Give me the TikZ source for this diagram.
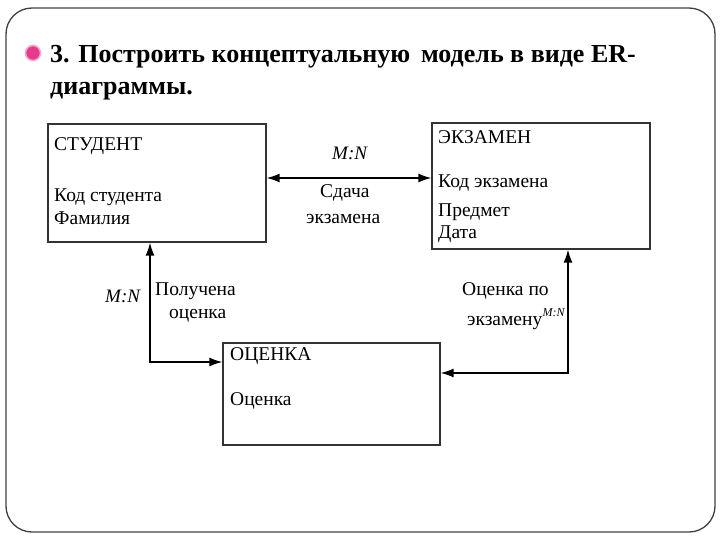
\documentclass[tikz,border=0pt]{standalone}
\usepackage{fontspec}
\setmainfont{Liberation Serif}
\usetikzlibrary{arrows.meta,calc}

\tikzset{
  entity/.style={rectangle,draw=black!80,line width=1.3pt,minimum width=218pt,inner sep=0pt},
  attr/.style={anchor=base west,inner sep=0pt,font=\fontsize{19.5}{23}\selectfont},
  rel/.style={line width=1.4pt,>={Latex[length=13pt,width=9pt]}},
  card/.style={anchor=base west,inner sep=0pt,font=\fontsize{19}{22}\selectfont\itshape}
}

\begin{document}
\begin{tikzpicture}[x=1pt,y=-1pt]
		\useasboundingbox (0,0) rectangle (720,540);
		\draw[black!75,line width=1.3pt,rounded corners=26pt] (6,8) rectangle (715,532);
		% title
		\node[circle,fill={rgb,255:red,232;green,58;blue,140},draw={rgb,255:red,245;green,170;blue,200},line width=1.5pt,minimum size=15pt,inner sep=0pt] (bullet) at (33,53) {};
		\node[anchor=base west,inner sep=0pt,font=\fontsize{26}{30}\selectfont\bfseries] (title1) at (50,63) {3. Построить концептуальную\, модель в виде ER-};
		\node[anchor=base west,inner sep=0pt,font=\fontsize{26}{30}\selectfont\bfseries] (title2) at (50,95) {диаграммы.};

		% entities
		\node[entity,minimum height=118pt] (stud) at (157,183) {};
		\node[entity,minimum height=126pt] (exam) at (541,186) {};
		\node[entity,minimum height=102pt,minimum width=217pt] (ocen) at (331.5,394) {};

		\node[attr] (studname) at (54,151) {СТУДЕНТ};
		\node[attr] (studkod) at (54,202) {Код студента};
		\node[attr] (studfam) at (54,225) {Фамилия};

		\node[attr] (examname) at (438,144) {ЭКЗАМЕН};
		\node[attr] (examkod) at (438,188) {Код экзамена};
		\node[attr] (exampred) at (438,217) {Предмет};
		\node[attr] (examdata) at (438,238) {Дата};

		\node[attr] (ocenname) at (230,360) {ОЦЕНКА};
		\node[attr] (ocenval) at (230,405) {Оценка};

		% relationships
		\coordinate (sc) at ([yshift=5pt]stud.east);
		\draw[rel,<->] (sc) -- (sc -| exam.west);
		\node[card] (mn1) at (332,160) {M:N};
		\node[attr] (sd1) at (320,198) {Сдача};
		\node[attr] (sd2) at (306,223) {экзамена};

		\coordinate (lc) at (150,362);
		\draw[rel,<->] (lc |- stud.south) -- (lc) -- (lc -| ocen.west);
		\node[card] (mn2) at (105,302) {M:N};
		\node[attr] (po1) at (155,295) {Получена};
		\node[attr] (po2) at (169,318) {оценка};

		\coordinate (rc) at (568,373);
		\draw[rel,<->] (rc |- exam.south) -- (rc) -- (rc -| ocen.east);
		\node[attr] (oe1) at (462,295) {Оценка по};
		\node[attr] (oe2) at (467,325) {экзамену};
		\node[card,font=\fontsize{12}{14}\selectfont\itshape] (mn3) at (oe2.base east) [anchor=base west,yshift=9pt] {M:N};
\end{tikzpicture}
\end{document}
